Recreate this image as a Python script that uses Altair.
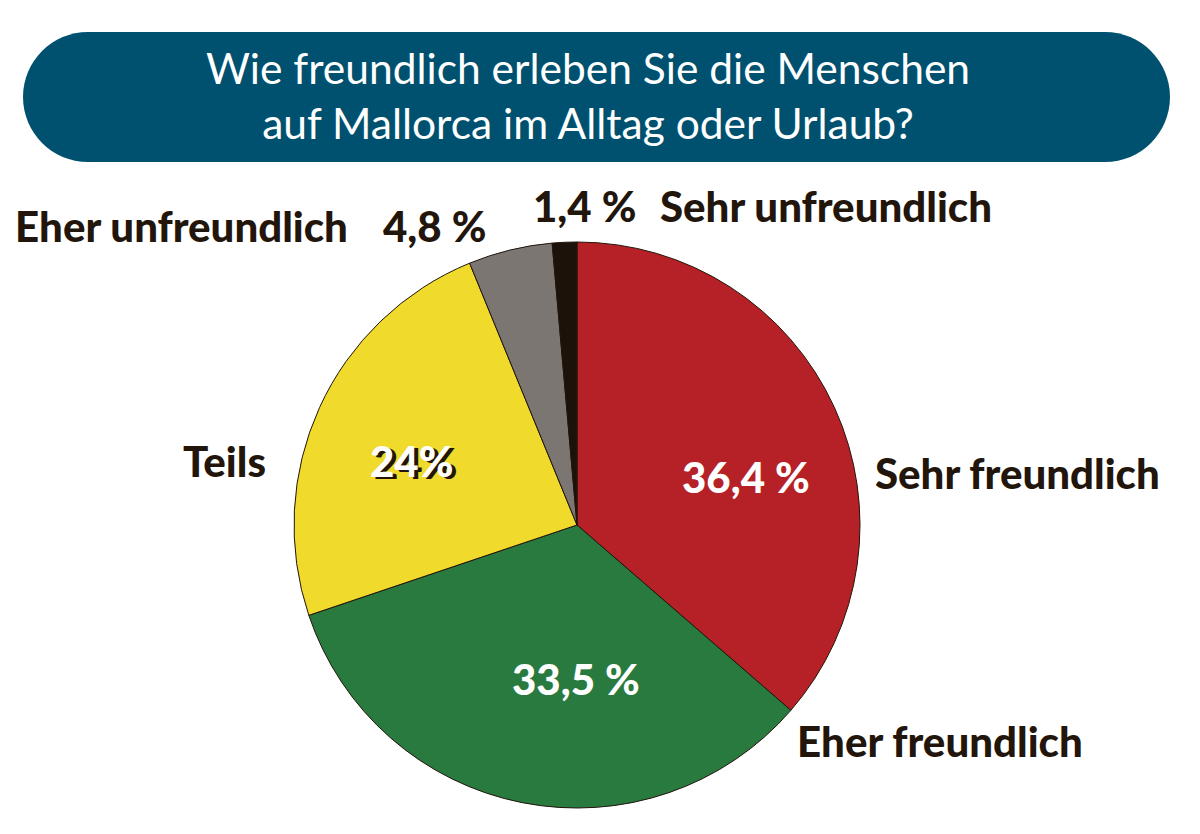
import pandas as pd
import altair as alt

# --- data ---
categories = ["Sehr freundlich", "Eher freundlich", "Teils", "Eher unfreundlich", "Sehr unfreundlich"]
shares = [36.4, 33.5, 24.0, 4.8, 1.4]
share_labels = ["36,4 %", "33,5 %", "24%", "4,8 %", "1,4 %"]
colors = ["#B52126", "#287A3F", "#F0DA2C", "#7B7672", "#1C1209"]

title_lines = ["Wie freundlich erleben Sie die Menschen", "auf Mallorca im Alltag oder Urlaub?"]

# label layout (chart pixels), kept apart from the values
name_pos = {  # category -> (x, y) left edge / baseline
    "Sehr freundlich": (867, 481),
    "Eher freundlich": (789, 749),
    "Teils": (175, 469),
    "Eher unfreundlich": (7, 234),
    "Sehr unfreundlich": (652, 214),
}
pct_pos = {
    "Sehr freundlich": (674, 485),
    "Eher freundlich": (504, 687),
    "Teils": (362, 469),
    "Eher unfreundlich": (375, 234),
    "Sehr unfreundlich": (525, 214),
}
inside = {"Sehr freundlich", "Eher freundlich", "Teils"}

W, H = 1184, 818
CX, CY, R = 569, 517, 283
INK = "#22150B"
FONT = "Lato"
LABEL_SIZE = 42

df = pd.DataFrame({"category": categories, "share": shares, "order": range(len(categories))})

box = alt.Chart(pd.DataFrame({"a": [0]})).mark_rect(
    color="#00516F", cornerRadius=65
).encode(x=alt.value(15), x2=alt.value(1162), y=alt.value(24), y2=alt.value(154))

title_layers = [
    alt.Chart(pd.DataFrame({"t": [line]})).mark_text(
        font=FONT, fontSize=42.5, color="white", align="center", baseline="alphabetic"
    ).encode(text="t:N", x=alt.value(580), y=alt.value(yy))
    for line, yy in zip(title_lines, [76, 131])
]

pie = alt.Chart(df).mark_arc(
    outerRadius=R, stroke=INK, strokeWidth=1
).encode(
    theta=alt.Theta("share:Q", stack=True),
    order=alt.Order("order:Q"),
    color=alt.Color("category:N", scale=alt.Scale(domain=categories, range=colors), legend=None),
    x=alt.value(CX),
    y=alt.value(CY),
)

text_layers = []
for cat, lab in zip(categories, share_labels):
    nx, ny = name_pos[cat]
    px, py = pct_pos[cat]
    one = pd.DataFrame({"t": [cat], "p": [lab]})
    text_layers.append(
        alt.Chart(one).mark_text(
            font=FONT, fontSize=LABEL_SIZE, fontWeight=900, color=INK, align="left", baseline="alphabetic"
        ).encode(text="t:N", x=alt.value(nx), y=alt.value(ny))
    )
    if cat == "Teils":
        # white figure with a dark drop shadow
        text_layers.append(
            alt.Chart(one).mark_text(
                font=FONT, fontSize=LABEL_SIZE, fontWeight=900, color=INK, align="left", baseline="alphabetic"
            ).encode(text="p:N", x=alt.value(px + 4), y=alt.value(py + 2))
        )
    text_layers.append(
        alt.Chart(one).mark_text(
            font=FONT, fontSize=LABEL_SIZE, fontWeight=900,
            color="white" if cat in inside else INK, align="left", baseline="alphabetic"
        ).encode(text="p:N", x=alt.value(px), y=alt.value(py))
    )

chart = alt.layer(box, *title_layers, pie, *text_layers).properties(
    width=W, height=H, padding=0, autosize=alt.AutoSizeParams(type="none"),
    background="white",
).configure_view(stroke=None)

chart.save("out.html", embed_options={"renderer": "svg", "actions": False})
